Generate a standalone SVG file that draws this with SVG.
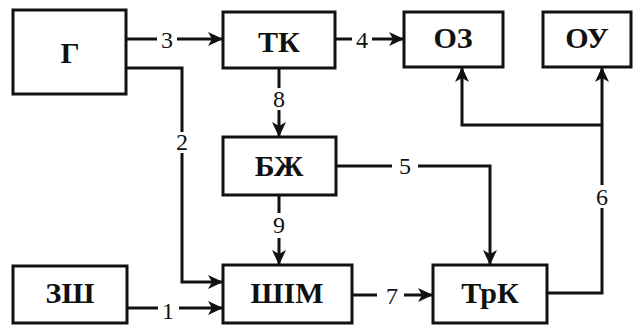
<svg xmlns="http://www.w3.org/2000/svg" width="634" height="327" viewBox="0 0 634 327">
<style>
.box{fill:#fff;stroke:#111;stroke-width:3}
.lbl{font-family:"Liberation Serif",serif;font-weight:bold;font-size:30px;fill:#111;text-anchor:middle}
.num{font-family:"Liberation Serif",serif;font-size:24px;fill:#111;text-anchor:middle}
.ln{fill:none;stroke:#111;stroke-width:3}
</style>
<defs>
<marker id="ah" markerUnits="userSpaceOnUse" markerWidth="16" markerHeight="14" refX="14" refY="7" orient="auto" viewBox="0 0 16 14">
<path d="M0,0 L15,7 L0,14 L4,7 z" fill="#111"/>
</marker>
</defs>
<g id="connectors">
<path class="ln" d="M126,39 H157"/><path class="ln" d="M177,39 H222" marker-end="url(#ah)"/>
<path class="ln" d="M335,39 H352"/><path class="ln" d="M372,39 H403" marker-end="url(#ah)"/>
<path class="ln" d="M126,68 H182 V132"/><path class="ln" d="M182,153 V282 H222" marker-end="url(#ah)"/>
<path class="ln" d="M279,68 V88"/><path class="ln" d="M279,110 V136" marker-end="url(#ah)"/>
<path class="ln" d="M279,195 V213"/><path class="ln" d="M279,238 V264" marker-end="url(#ah)"/>
<path class="ln" d="M336,166 H392"/><path class="ln" d="M418,166 H490 V264" marker-end="url(#ah)"/>
<path class="ln" d="M547,293 H602 V208"/><path class="ln" d="M602,185 V68" marker-end="url(#ah)"/>
<path class="ln" d="M602,125 H462 V68" marker-end="url(#ah)"/>
<path class="ln" d="M127,308 H158"/><path class="ln" d="M179,308 H222" marker-end="url(#ah)"/>
<path class="ln" d="M352,295 H377"/><path class="ln" d="M404,295 H432" marker-end="url(#ah)"/>
<text class="num" x="167" y="48">3</text>
<text class="num" x="362" y="48">4</text>
<text class="num" x="182" y="150">2</text>
<text class="num" x="279" y="107">8</text>
<text class="num" x="279" y="233">9</text>
<text class="num" x="405" y="174">5</text>
<text class="num" x="602" y="205">6</text>
<text class="num" x="168" y="319">1</text>
<text class="num" x="392" y="304">7</text>
</g>
<g id="G"><rect class="box" x="13" y="10" width="113" height="84"/><text class="lbl" x="70" y="63">Г</text></g>
<g id="TK"><rect class="box" x="223" y="12" width="112" height="56"/><text class="lbl" x="279" y="52">ТК</text></g>
<g id="OZ"><rect class="box" x="404" y="12" width="99" height="55"/><text class="lbl" x="453" y="48">ОЗ</text></g>
<g id="OU"><rect class="box" x="543" y="12" width="88" height="55"/><text class="lbl" x="587" y="48">ОУ</text></g>
<g id="BZh"><rect class="box" x="223" y="137" width="113" height="58"/><text class="lbl" x="279" y="176">БЖ</text></g>
<g id="ZSh"><rect class="box" x="13" y="266" width="114" height="57"/><text class="lbl" x="70" y="303">ЗШ</text></g>
<g id="ShIM"><rect class="box" x="223" y="265" width="129" height="58"/><text class="lbl" x="287" y="303">ШІМ</text></g>
<g id="TrK"><rect class="box" x="433" y="265" width="114" height="58"/><text class="lbl" x="490" y="303">ТрК</text></g>
</svg>
